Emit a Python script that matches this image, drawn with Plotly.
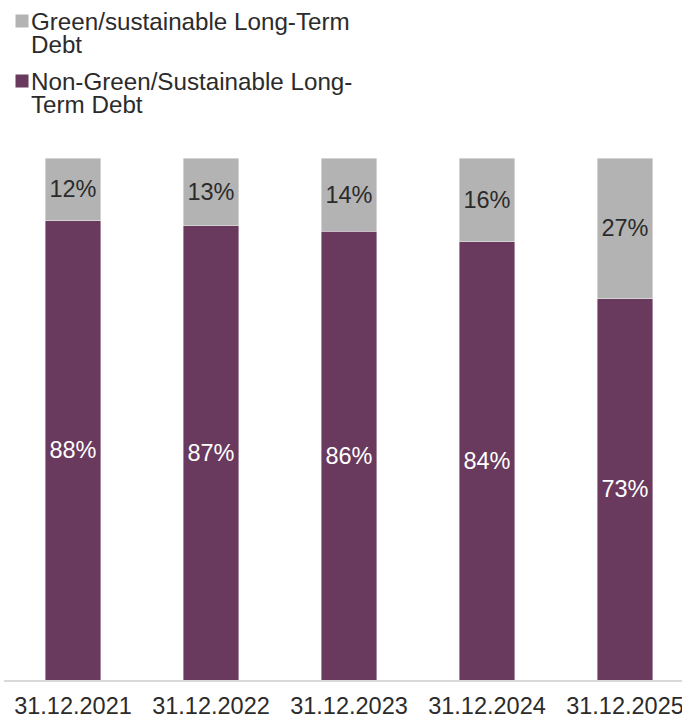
import plotly.graph_objects as go

# Share of long-term debt by type at each reporting date (percent)
dates = ["31.12.2021", "31.12.2022", "31.12.2023", "31.12.2024", "31.12.2025"]
non_green = [88, 87, 86, 84, 73]
green = [12, 13, 14, 16, 27]

series_names = ["Green/sustainable Long-Term Debt", "Non-Green/Sustainable Long-Term Debt"]
legend_lines = [["Green/sustainable Long-Term", "Debt"], ["Non-Green/Sustainable Long-", "Term Debt"]]

PURPLE = "#69395E"
GREY = "#B3B3B3"
TEXT = "#2B2B2B"
FONT = "Liberation Sans, Arial, sans-serif"

W, H = 682, 718
ML, MR, MT, MB = 4, 0, 158, 38
plot_w = W - ML - MR
plot_h = H - MT - MB


def px_x(px):
    return (px - ML) / plot_w


def px_y(py):
    return (H - MB - py) / plot_h


edge = dict(color="rgba(255,255,255,0.55)", width=0.75)

fig = go.Figure()
fig.add_trace(go.Bar(
    x=dates, y=non_green, name=series_names[1],
    marker=dict(color=PURPLE, line=edge),
    text=[f"{v}%" for v in non_green], textposition="inside",
    insidetextanchor="middle", textangle=0, constraintext="none",
    textfont=dict(color="white", size=23.5, family=FONT),
    showlegend=False, hoverinfo="skip",
))
fig.add_trace(go.Bar(
    x=dates, y=green, name=series_names[0],
    marker=dict(color=GREY, line=edge),
    text=[f"{v}%" for v in green], textposition="inside",
    insidetextanchor="middle", textangle=0, constraintext="none",
    textfont=dict(color=TEXT, size=23.5, family=FONT),
    showlegend=False, hoverinfo="skip",
))

# Legend drawn as swatches + wrapped labels at the top left
swatches = [GREY, PURPLE]
sw_top = [14.5, 74.5]
line_centers = [[21, 44.5], [81, 104.5]]
for color, top, lines, centers in zip(swatches, sw_top, legend_lines, line_centers):
    fig.add_shape(type="rect", xref="paper", yref="paper",
                  x0=px_x(15.5), x1=px_x(28.5), y0=px_y(top), y1=px_y(top + 13),
                  fillcolor=color, line=dict(width=0))
    for txt, cy in zip(lines, centers):
        fig.add_annotation(text=txt, xref="paper", yref="paper",
                           x=px_x(29.5), y=px_y(cy), xanchor="left", yanchor="middle",
                           showarrow=False, borderpad=0,
                           font=dict(size=24.2, color=TEXT, family=FONT))

fig.update_layout(
    barmode="stack", bargap=0.6,
    width=W, height=H,
    margin=dict(l=ML, r=MR, t=MT, b=MB, pad=0, autoexpand=False),
    paper_bgcolor="white", plot_bgcolor="white",
    font=dict(family=FONT, color=TEXT),
    xaxis=dict(
        range=[-0.5, -0.5 + plot_w / 138.0], showgrid=False, zeroline=False,
        showline=True, linecolor="#D9D9D9", linewidth=1.5, ticks="",
        automargin=False, ticklabelstandoff=4,
        tickfont=dict(size=23.5, color=TEXT, family=FONT),
        fixedrange=True,
    ),
    yaxis=dict(range=[0, 100], visible=False, fixedrange=True, automargin=False),
)

fig.write_html("out.html", config={"displayModeBar": False})
